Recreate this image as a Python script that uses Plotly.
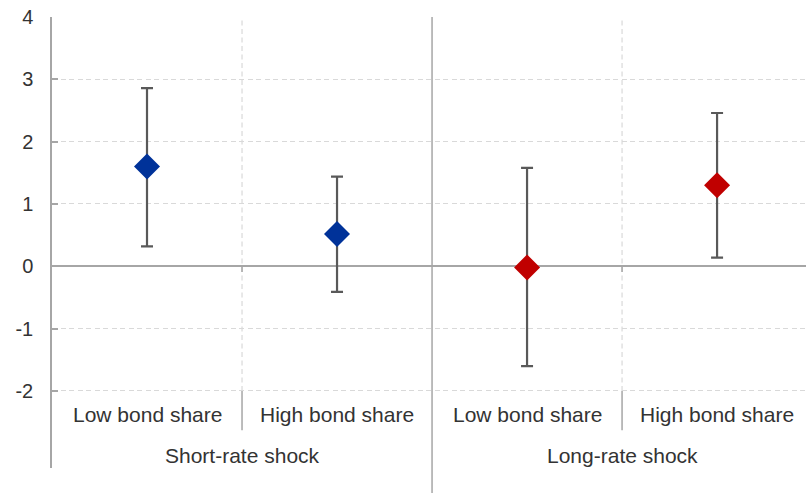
import plotly.graph_objects as go

# Data
sub_labels = ["Low bond share", "High bond share", "Low bond share", "High bond share"]
group_labels = ["Short-rate shock", "Long-rate shock"]
x_pos = [0, 1, 2, 3]

short_est = [1.60, 0.52]
short_hi = [2.86, 1.44]
short_lo = [0.32, -0.41]

long_est = [-0.02, 1.30]
long_hi = [1.58, 2.46]
long_lo = [-1.60, 0.14]

y_ticks = [-2, -1, 0, 1, 2, 3, 4]

FONT = "Liberation Sans, Arial, sans-serif"
AXIS_GREY = "#a6a6a6"
GRID = "#d9d9d9"
ERR = "#595959"
TXT = "#333333"
DASH = "5px,3.5px"

fig = go.Figure()

def add_series(xs, est, hi, lo, color):
    fig.add_trace(go.Scatter(
        x=xs, y=est, mode="markers",
        marker=dict(symbol="diamond", size=20, color=color, line=dict(width=0)),
        error_y=dict(type="data", symmetric=False,
                     array=[h - e for h, e in zip(hi, est)],
                     arrayminus=[e - l for e, l in zip(est, lo)],
                     color=ERR, thickness=2.2, width=6),
        showlegend=False, hoverinfo="skip",
    ))

add_series(x_pos[:2], short_est, short_hi, short_lo, "#003299")
add_series(x_pos[2:], long_est, long_hi, long_lo, "#c00000")

shapes = []
for xv in [0.5, 2.5]:
    shapes.append(dict(type="line", xref="x", yref="y", x0=xv, x1=xv, y0=-2, y1=4,
                       line=dict(color=GRID, width=1.2, dash=DASH), layer="below"))
    shapes.append(dict(type="line", xref="x", yref="y", x0=xv, x1=xv, y0=-2, y1=-2.63,
                       line=dict(color=AXIS_GREY, width=1.5)))
    shapes.append(dict(type="line", xref="x", yref="y", x0=xv, x1=xv, y0=0, y1=-0.09,
                       line=dict(color=AXIS_GREY, width=1.5)))
shapes.append(dict(type="line", xref="x", yref="paper", x0=1.5, x1=1.5, y0=-0.06, y1=1,
                   line=dict(color=AXIS_GREY, width=1.5)))

annotations = []
for xv, lab in zip(x_pos, sub_labels):
    annotations.append(dict(x=xv, y=-2.385, xref="x", yref="y", text=lab, showarrow=False,
                            xanchor="center", yanchor="middle",
                            font=dict(family=FONT, size=21, color=TXT)))
for xv, lab in zip([0.5, 2.5], group_labels):
    annotations.append(dict(x=xv, y=-3.03, xref="x", yref="y", text=lab, showarrow=False,
                            xanchor="center", yanchor="middle",
                            font=dict(family=FONT, size=21, color=TXT)))

fig.update_layout(
    width=806, height=493,
    margin=dict(l=52, r=0, t=17, b=25),
    paper_bgcolor="white", plot_bgcolor="white",
    font=dict(family=FONT, size=20, color=TXT),
    shapes=shapes, annotations=annotations,
    xaxis=dict(range=[-0.5, 3.468], showgrid=False, zeroline=False, showline=False,
               showticklabels=False, ticks=""),
    yaxis=dict(range=[-3.236, 4], tickvals=y_ticks, ticktext=[str(v) for v in y_ticks],
               showgrid=True, gridcolor=GRID, griddash=DASH, gridwidth=1.2,
               zeroline=True, zerolinecolor=AXIS_GREY, zerolinewidth=1.5,
               showline=True, linecolor=AXIS_GREY, linewidth=1.5,
               ticks="inside", ticklen=6, tickcolor=AXIS_GREY, tickwidth=1.5,
               ticklabelstandoff=13,
               tickfont=dict(family=FONT, size=20, color=TXT)),
)

fig.write_html("out.html",
               config={"displayModeBar": False},
               post_script="document.body.style.margin='0';document.body.style.overflow='hidden';")
